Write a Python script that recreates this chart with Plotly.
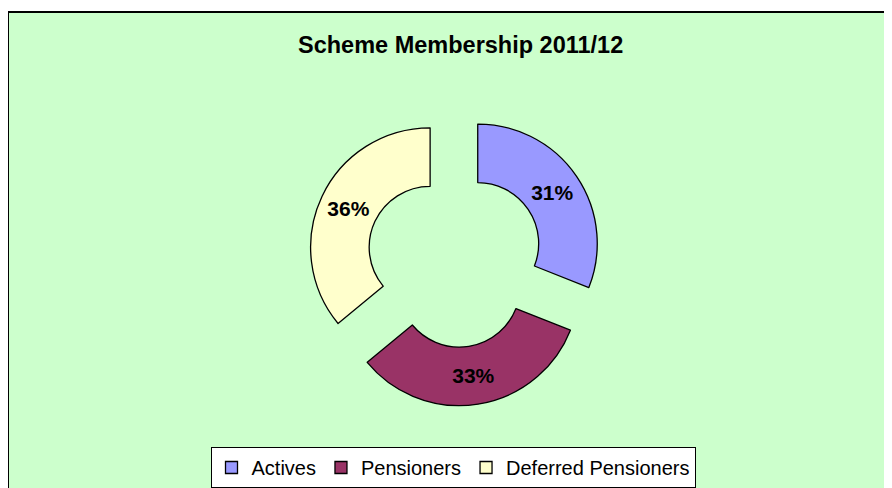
import plotly.graph_objects as go

categories = ["Actives", "Pensioners", "Deferred Pensioners"]
shares = [31, 33, 36]
colors = ["#9999FF", "#993366", "#FFFFCC"]

W, H = 892, 488
OFF = 8  # page body margin offset

def px_x(x):
    return (x - OFF) / W

def px_y(y):
    return 1 - (y - OFF) / H

fig = go.Figure()
fig.add_trace(go.Pie(
    labels=categories,
    values=shares,
    sort=False,
    direction="clockwise",
    rotation=0,
    hole=0.51,
    pull=[0.23, 0.23, 0.23],
    marker=dict(colors=colors, line=dict(color="black", width=1.3)),
    textinfo="percent",
    texttemplate="%{percent:.0%}",
    textposition="inside",
    insidetextorientation="horizontal",
    textfont=dict(family="Liberation Sans, Arial", size=21, color="black", weight="bold"),
    domain=dict(x=[px_x(455 - 147), px_x(455 + 147)], y=[px_y(259 + 147), px_y(259 - 147)]),
    showlegend=True,
))

fig.update_layout(
    width=W, height=H,
    margin=dict(l=0, r=0, t=0, b=0),
    paper_bgcolor="white",
    plot_bgcolor="white",
    font=dict(family="Liberation Sans, Arial", color="black"),
    shapes=[dict(
        type="rect", xref="paper", yref="paper",
        x0=px_x(8), x1=1.05, y0=-0.05, y1=px_y(12),
        fillcolor="#CCFFCC", line=dict(color="black", width=2), layer="below",
    )],
    annotations=[dict(
        text="<b>Scheme Membership 2011/12</b>",
        xref="paper", yref="paper", x=px_x(460), y=px_y(45),
        xanchor="center", yanchor="middle", showarrow=False,
        font=dict(family="Liberation Sans, Arial", size=23.5, color="black"),
    )],
    legend=dict(
        orientation="h",
        x=px_x(453), xanchor="center",
        y=px_y(447), yanchor="top",
        bgcolor="white", bordercolor="black", borderwidth=1,
        font=dict(family="Liberation Sans, Arial", size=20, color="black"),
        itemwidth=30,
    ),
)

fig.write_html("out.html")
